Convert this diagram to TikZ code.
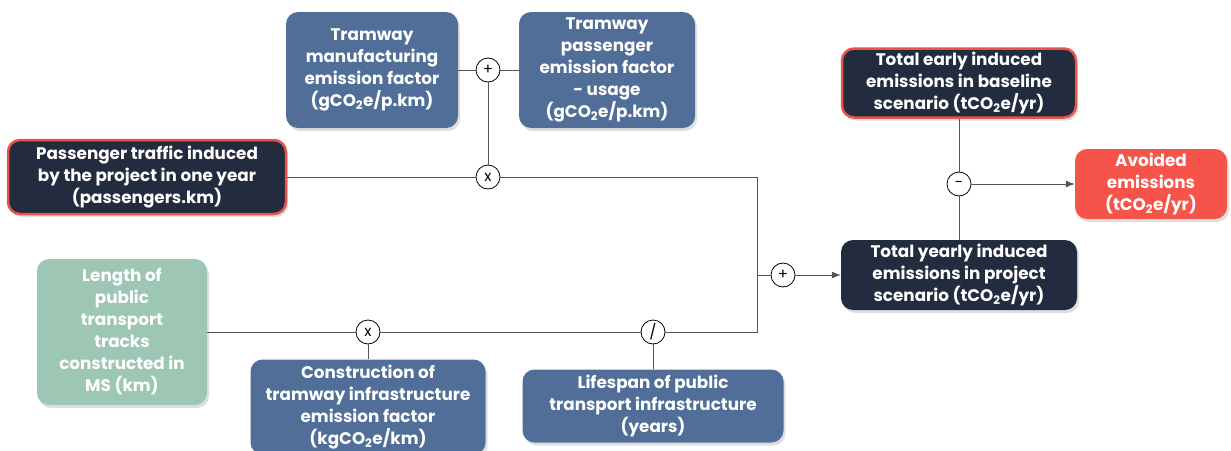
\documentclass[tikz,border=0pt]{standalone}
\usepackage{fontspec}
\setmainfont{Poppins}
\usetikzlibrary{shapes,positioning,arrows.meta,shadows}
\definecolor{factcolor}{RGB}{80,110,151}
\definecolor{totcolor}{RGB}{35,43,62}
\definecolor{rimcolor}{RGB}{232,84,74}
\definecolor{rescolor}{RGB}{246,84,75}
\definecolor{lencolor}{RGB}{157,198,181}
\definecolor{wirecolor}{RGB}{85,85,85}

\begin{document}
\begin{tikzpicture}[%
    x=1pt, y=-1pt,               % work in pixels, top-left origin
    >={Latex[length=9pt,width=7pt]},
    ]
\tikzset{
  base/.style={rectangle, rounded corners=12pt, align=center, text=white, inner sep=0pt,
    font=\fontsize{16.8}{22}\selectfont\bfseries,
    drop shadow={shadow xshift=2pt, shadow yshift=-3pt, opacity=0.25}},
  fact/.style={base, fill=factcolor},
  tot/.style={base, fill=totcolor},
  key/.style={tot, draw=rimcolor, line width=2.5pt},
  len/.style={base, fill=lencolor},
  res/.style={base, fill=rescolor},
  op/.style={circle, draw=black, fill=white, line width=0.8pt, minimum size=24pt, inner sep=0pt,
    font=\fontsize{15}{15}\selectfont},
  wire/.style={draw=wirecolor, line width=0.8pt},
}
\useasboundingbox (0,0) rectangle (1231,450);

\node [fact, minimum width=172, minimum height=116] (mfg) at (372,70)
  {Tramway\\manufacturing\\emission factor\\(gCO\textsubscript{2}e/p.km)};
\node [fact, minimum width=176, minimum height=116] (use) at (607,70)
  {Tramway\\passenger\\emission factor\\- usage\\(gCO\textsubscript{2}e/p.km)};
\node [key, minimum width=278, minimum height=74] (pax) at (147,177)
  {Passenger traffic induced\\by the project in one year\\(passengers.km)};
\node [len, minimum width=170, minimum height=146] (lng) at (122,332)
  {Length of\\public\\transport\\tracks\\constructed in\\MS (km)};
\node [fact, minimum width=235, minimum height=95] (con) at (368,407)
  {Construction of\\tramway infrastructure\\emission factor\\(kgCO\textsubscript{2}e/km)};
\node [fact, minimum width=261, minimum height=73] (life) at (653,406)
  {Lifespan of public\\transport infrastructure\\(years)};
\node [key, minimum width=234, minimum height=69] (bsl) at (959,83)
  {Total early induced\\emissions in baseline\\scenario (tCO\textsubscript{2}e/yr)};
\node [tot, minimum width=236, minimum height=70] (prj) at (959,275)
  {Total yearly induced\\emissions in project\\scenario (tCO\textsubscript{2}e/yr)};
\node [res, minimum width=152, minimum height=70] (avd) at (1151,184)
  {Avoided\\emissions\\(tCO\textsubscript{2}e/yr)};

% operators
\node [op] (add1) at (488,70) {+};
\node [op] (mul1) at (488,177) {x};
\node [op] (mul2) at (368,332) {x};
\node [op] (div) at (653,332) {/};
\node [op] (add2) at (783,275) {+};
\node [op] (sub) at (959,184) {-};

\coordinate (j1) at (757,177);
\coordinate (j2) at (757,332);
\coordinate (jm) at (757,275);

%connect
\draw [wire] (mfg) -- (add1) -- (use);
\draw [wire] (add1) -- (mul1);
\draw [wire] (pax) -- (mul1) -- (j1) -- (j2) -- (div) -- (mul2) -- (lng);
\draw [wire] (con) -- (mul2);
\draw [wire] (life) -- (div);
\draw [wire] (jm) -- (add2);
\draw [wire,->] (add2) -- (prj);
\draw [wire] (bsl) -- (sub) -- (prj);
\draw [wire,->] (sub) -- (avd);

\end{tikzpicture}
\end{document}
